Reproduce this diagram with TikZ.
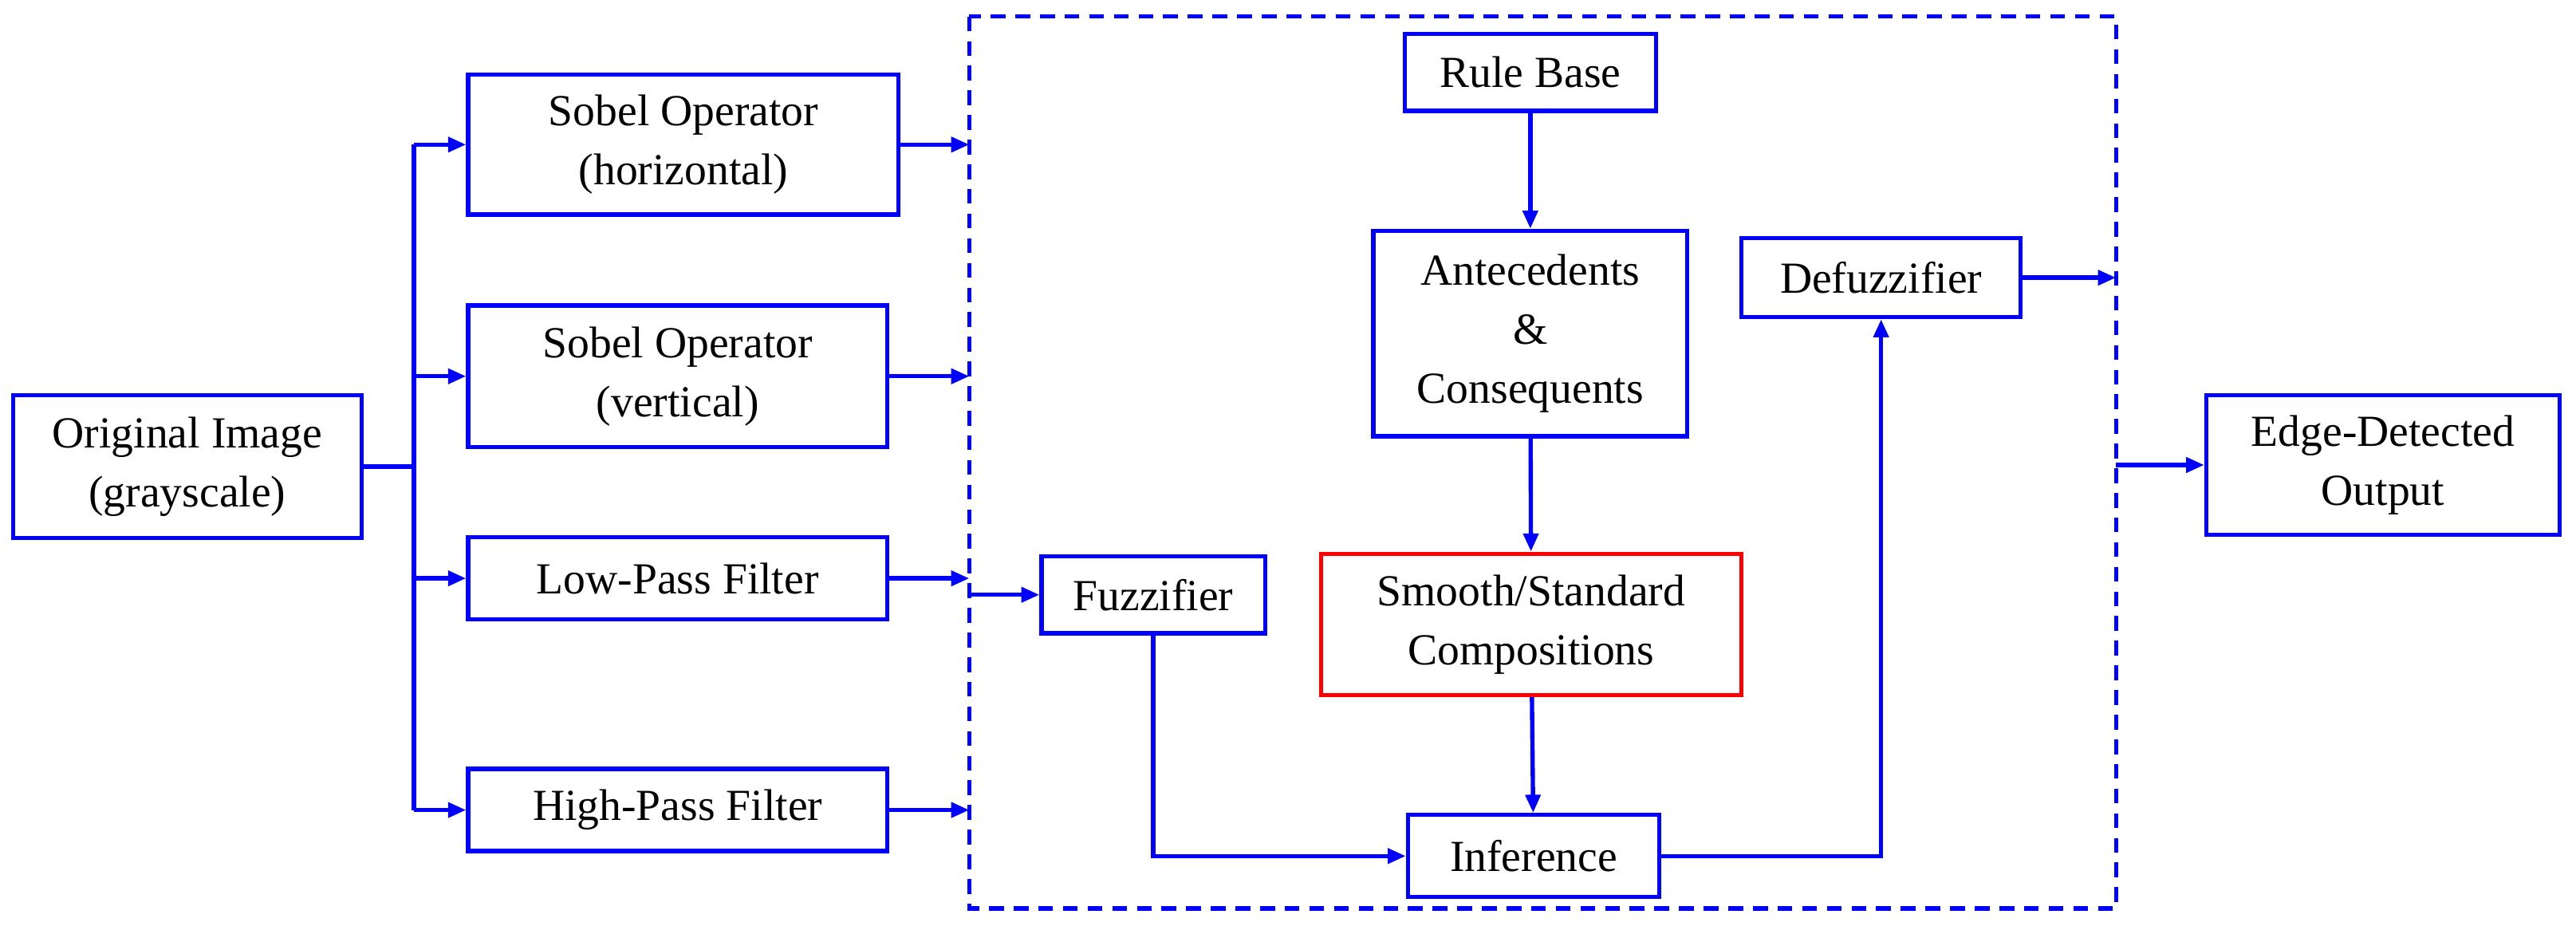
\documentclass[tikz,border=0pt]{standalone}
\usepackage{fontspec}
\setmainfont{Liberation Serif}
\usetikzlibrary{arrows.meta}
\begin{document}
\begin{tikzpicture}[x=1pt,y=-1pt,
  box/.style={draw=blue,line width=2.6pt,fill=white,inner sep=0pt,align=center,font=\fontsize{27}{36}\selectfont},
  arr/.style={draw=blue,line width=2.6pt,-{Triangle[length=11pt,width=9pt]}},
  ln/.style={draw=blue,line width=2.6pt}]
\useasboundingbox (0,0) rectangle (1568,565.6);
\draw[blue,line width=2.6pt,dash pattern=on 9pt off 6pt] (590,10) rectangle (1288,553);
\node[box,minimum width=212pt,minimum height=87pt] (orig) at (114,284) {Original Image\\(grayscale)};
\node[box,minimum width=262pt,minimum height=85pt] (sh) at (416,88) {Sobel Operator\\(horizontal)};
\node[box,minimum width=255pt,minimum height=86pt] (sv) at (412.5,229) {Sobel Operator\\(vertical)};
\node[box,minimum width=255pt,minimum height=50pt] (lp) at (412.5,352) {Low-Pass Filter};
\node[box,minimum width=255pt,minimum height=50pt] (hp) at (412.5,493) {High-Pass Filter};
\node[box,minimum width=153pt,minimum height=47pt] (rb) at (931.5,44) {Rule Base};
\node[box,minimum width=191pt,minimum height=125pt] (ac) at (931.5,203) {Antecedents\\\&\\Consequents};
\node[box,draw=red,minimum width=256pt,minimum height=86pt] (sm) at (932,380) {Smooth/Standard\\Compositions};
\node[box,minimum width=153pt,minimum height=50pt] (inf) at (933.5,521) {Inference};
\node[box,minimum width=136pt,minimum height=47pt] (fz) at (702,362) {Fuzzifier};
\node[box,minimum width=170pt,minimum height=48pt] (dz) at (1145,169) {Defuzzifier};
\node[box,minimum width=215pt,minimum height=85pt] (ed) at (1450.5,283) {Edge-Detected\\Output};
\coordinate (bus) at (252,284);
\draw[ln] (orig.east) -- (bus);
\draw[ln] (252,88) -- (252,493);
\draw[arr] (252,88) -- (sh.west);
\draw[arr] (252,229) -- (sv.west);
\draw[arr] (252,352) -- (lp.west);
\draw[arr] (252,493) -- (hp.west);
\coordinate (a1) at (590,88); \coordinate (a2) at (590,229);
\coordinate (a3) at (590,352); \coordinate (a4) at (590,493);
\coordinate (a5) at (590,362);
\draw[arr] (sh.east) -- (a1);
\draw[arr] (sv.east) -- (a2);
\draw[arr] (lp.east) -- (a3);
\draw[arr] (hp.east) -- (a4);
\draw[arr] (a5) -- (fz.west);
\draw[arr] (rb) -- (ac);
\draw[arr] (ac) -- (sm);
\draw[arr] (sm) -- (inf);
\draw[arr] (fz.south) |- (inf.west);
\draw[arr] (inf.east) -| (dz.south);
\coordinate (o1) at (1288,169); \coordinate (o2) at (1288,283);
\draw[arr] (dz.east) -- (o1);
\draw[arr] (o2) -- (ed.west);
\end{tikzpicture}
\end{document}
